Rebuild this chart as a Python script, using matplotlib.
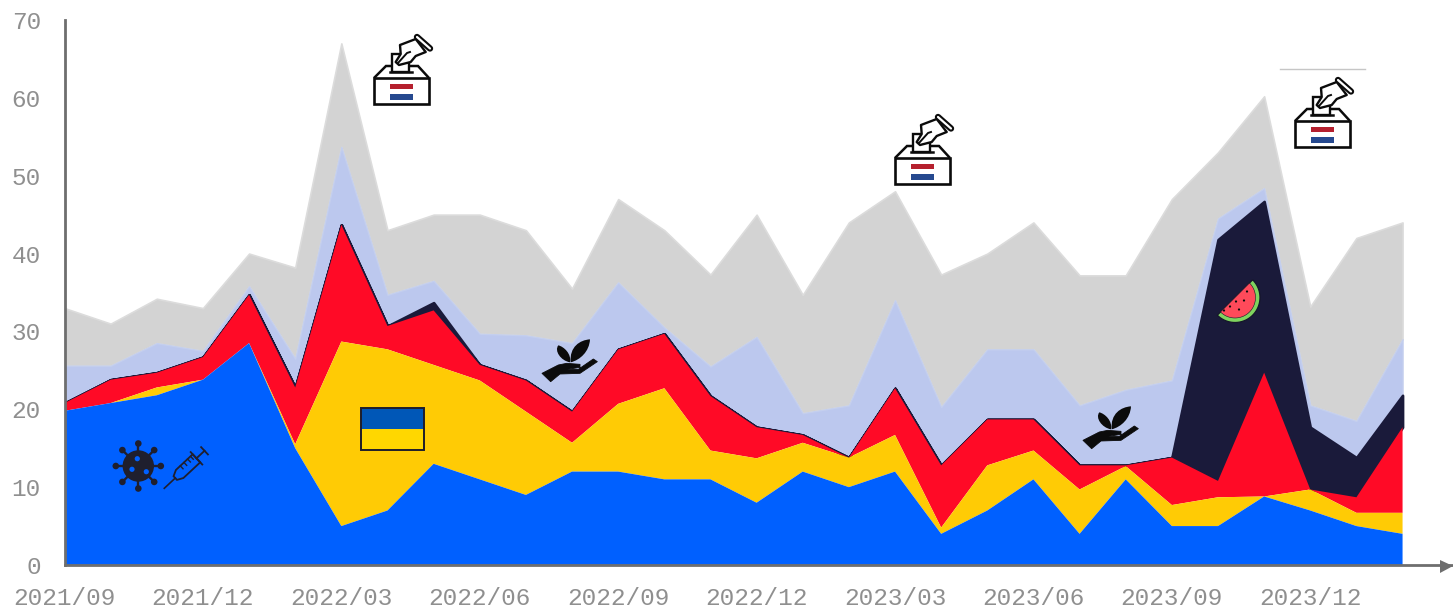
import numpy as np
import matplotlib
matplotlib.use("Agg")
import matplotlib.pyplot as plt
from matplotlib.patches import Polygon, Rectangle, Circle, PathPatch
from matplotlib.path import Path

months = ["2021/09","2021/10","2021/11","2021/12","2022/01","2022/02","2022/03","2022/04","2022/05","2022/06",
          "2022/07","2022/08","2022/09","2022/10","2022/11","2022/12","2023/01","2023/02","2023/03","2023/04",
          "2023/05","2023/06","2023/07","2023/08","2023/09","2023/10","2023/11","2023/12","2024/01","2024/02"]
blue = [19.8,20.8,21.8,23.8,28.5,15,5,7,13,11,9,12,12,11,11,8,12,10,12,4,7,11,4,11,5,5,8.8,7,5,4]
yellow = [0,0,1,0,0,.5,23.7,20.7,12.7,12.7,10.7,3.7,8.7,11.7,3.7,5.7,3.7,3.8,4.7,.8,5.8,3.7,5.7,1.7,2.7,3.7,0,2.7,1.7,2.7]
red = [1,3,1.9,2.9,6.2,7.3,15,3,7,2,4,4,7,7,7,4,1,0,6,8,5.9,4,3.1,.1,6.1,2.1,15.9,0,2,11]
navy = [0,0,0,0,0,0,0,0,1,0,0,0,0,0,0,0,0,0,0,0,0,0,0,0,0,31,22,8,5.1,4.1]
lightblue = [4.8,1.8,3.8,.8,1.1,3.7,10,4,2.8,4,5.8,8.8,8.6,.8,3.8,11.6,2.8,6.7,11.3,7.5,9,9,7.7,9.7,9.9,2.7,1.7,2.8,4.7,7.2]
gray = [7.4,5.4,5.7,5.5,4.2,11.7,13.3,8.3,8.5,15.3,13.5,7,10.7,12.5,11.8,15.7,15.2,23.5,14,17,12.3,16.3,16.7,14.7,23.3,8.5,11.8,12.7,23.5,15]
y_ticks = [0,10,20,30,40,50,60,70]

W, H = 1453, 610
C_TXT = "#8f8f8f"
C_AX = "#6e6e6e"
fig = plt.figure(figsize=(W/100, H/100), dpi=100, facecolor="white")
ax = fig.add_axes([64.5/W, (H-565)/H, (1453-64.5)/W, 545/H])
x = np.arange(len(months))
polys = ax.stackplot(x, blue, yellow, red, navy, lightblue, gray,
                     colors=["#0060ff","#ffcb05","#ff0a26","#1a1a3a","#bcc8ee","#d3d3d3"], linewidth=0)
for p, z in zip(polys, [6,5,4,3,2,1]):
    p.set_zorder(z)
polys[3].set_edgecolor("#1a1a3a"); polys[3].set_linewidth(1.9)
polys[4].set_edgecolor("#c4cfee"); polys[4].set_linewidth(1.0)
polys[5].set_edgecolor("#dcdcdc"); polys[5].set_linewidth(1.2)
ax.set_xlim(0, (1453-64.5)/46.14)
ax.set_ylim(0, 70)
for s in ["top","right"]:
    ax.spines[s].set_visible(False)
for s in ["left","bottom"]:
    ax.spines[s].set_color(C_AX); ax.spines[s].set_linewidth(2)
    ax.spines[s].set_zorder(10)
ax.set_xticks(x[::3]); ax.set_xticklabels(months[::3])
ax.set_yticks(y_ticks)
ax.tick_params(length=0, labelcolor=C_TXT, labelsize=17.6, pad=0)
ax.tick_params(axis="x", pad=16)
ax.tick_params(axis="y", pad=17)
for t in ax.get_xticklabels()+ax.get_yticklabels():
    t.set_family(["Liberation Mono","DejaVu Sans Mono"])

# overlay in pixel space for the decorative icons
ov = fig.add_axes([0,0,1,1], facecolor="none")
ov.set_xlim(0,W); ov.set_ylim(H,0); ov.axis("off")
ov.add_patch(Polygon([[1440,560],[1453,566],[1440,573]], closed=True, fc=C_AX, ec="none"))
ov.plot([1280,1365],[68.5,68.5], color="#c6c6c6", lw=1)

K = "#0b0b0b"
def ballot(bx, by):
    "bx, by: bottom-left corner of the box"
    def P(pts): return [(bx+a, by+b) for a,b in pts]
    ov.add_patch(Polygon(P([(18,-50),(35,-50),(35,-32),(18,-32)]), fc="white", ec=K, lw=1.7, zorder=3))
    hand = P([(26,-59),(41.7,-65),(51.7,-52),(41.7,-48),(36.7,-42),(25,-39),(21.7,-42),(26.7,-50)])
    ov.add_patch(Polygon(hand, fc="white", ec=K, lw=1.7, zorder=4, joinstyle="round"))
    ov.plot(*zip(*P([(24,-41),(33,-51),(36,-52)])), color=K, lw=1.4, zorder=5)
    ov.plot(*zip(*P([(43,-67),(56,-55.5)])), color=K, lw=4.6, solid_capstyle="round", zorder=5)
    ov.plot(*zip(*P([(43,-67),(56,-55.5)])), color="white", lw=1.6, solid_capstyle="round", zorder=6)
    ov.add_patch(Polygon(P([(0,-26),(12,-38),(44,-38),(55,-26)]), closed=False, fc="none", ec=K, lw=1.8, zorder=2))
    ov.plot(*zip(*P([(16,-32),(38,-32)])), color=K, lw=1.8, zorder=5)
    ov.add_patch(Rectangle((bx,by-26),55,26, fc="white", ec=K, lw=1.9, zorder=3))
    ov.add_patch(Rectangle((bx+16,by-20.5),23,5.5, fc="#b5202e", ec="none", zorder=4))
    ov.add_patch(Rectangle((bx+16,by-10),23,5.5, fc="#26498f", ec="none", zorder=4))

ballot(374,104); ballot(895,184); ballot(1295,147)

# Ukraine flag
ov.add_patch(Rectangle((361,407.5),63,21, fc="#0057b7", ec="none"))
ov.add_patch(Rectangle((361,428.5),63,21, fc="#ffd700", ec="none"))
ov.add_patch(Rectangle((361,407.5),63,42, fc="none", ec="#1d1d2b", lw=1.4))

# virus
vx, vy, D = 138.3, 466, "#1f1f2e"
ov.add_patch(Circle((vx,vy),15.7, fc=D, ec="none"))
for a in np.deg2rad(np.arange(0,360,45)):
    ov.plot([vx+14*np.cos(a), vx+22*np.cos(a)],[vy+14*np.sin(a), vy+22*np.sin(a)], color=D, lw=1.7)
    ov.add_patch(Circle((vx+22.5*np.cos(a), vy+22.5*np.sin(a)),3.3, fc=D, ec="none"))
for dx,dy in [(-1,-7.3),(-6.3,3.3),(8,5.7)]:
    ov.add_patch(Circle((vx+dx,vy+dy),2.6, fc="#0060ff", ec="none"))

# syringe
def rot(pts, c=(0,0), deg=-43):
    t=np.deg2rad(deg); R=np.array([[np.cos(t),-np.sin(t)],[np.sin(t),np.cos(t)]])
    return np.array(pts)@R.T+np.array(c)
sc=(164.3,488.3)
ov.plot(*rot([(0,0),(15,0)],sc).T, color=D, lw=1.2)
ov.add_patch(Polygon(rot([(15,-2.5),(21,-5.5),(44,-5.5),(44,5.5),(21,5.5),(15,2.5)],sc), fc="none", ec=D, lw=1.3))
ov.plot(*rot([(44,0),(55,0)],sc).T, color=D, lw=1.3)
ov.plot(*rot([(44,-8.5),(44,8.5)],sc).T, color=D, lw=1.3)
ov.plot(*rot([(55,-5),(55,5)],sc).T, color=D, lw=1.3)
for d in [27,32,37,41]:
    ov.plot(*rot([(d,-5.5),(d,-1.5)],sc).T, color=D, lw=1.0)

# plant in a hand
def plant(px, py, c="#0b0b0b"):
    def P(pts): return [(px+(a-36)/3, py+(b-45)/3) for a,b in pts]
    ov.add_patch(Polygon(P([(36,130),(85,105),(110,100),(150,103),(150,112),(112,118),(145,118),(190,87),(202,95),(150,130),(90,132),(62,155)]),
                         fc=c, ec=c, lw=0.6, joinstyle="round"))
    ov.add_patch(PathPatch(Path(P([(120,97),(92,92),(72,62),(85,46),(102,50),(125,72),(120,97)]),[1,4,4,4,4,4,4]), fc=c, ec="none"))
    ov.add_patch(PathPatch(Path(P([(122,97),(118,50),(150,30),(180,28),(178,65),(150,90),(122,97)]),[1,4,4,4,4,4,4]), fc=c, ec="none"))
plant(542,345); plant(1083,412)

# watermelon
cx, cy = 1235, 297.5
t = np.linspace(np.deg2rad(-45), np.deg2rad(135), 40)
ov.add_patch(Polygon(np.c_[cx+25*np.cos(t), cy+25*np.sin(t)], fc="#7fd45f", ec="#15152a", lw=0.9))
ov.add_patch(Polygon(np.c_[cx+20.5*np.cos(t), cy+20.5*np.sin(t)], fc="#ff4a5a", ec="#15152a", lw=0.4))
for dx,dy in [(12,-6),(9,3),(1,4),(4,12),(-5,9),(-11,13)]:
    ov.add_patch(Circle((cx+dx,cy+dy),1.1, fc=K, ec="none"))

fig.savefig("out.png", dpi=100)
